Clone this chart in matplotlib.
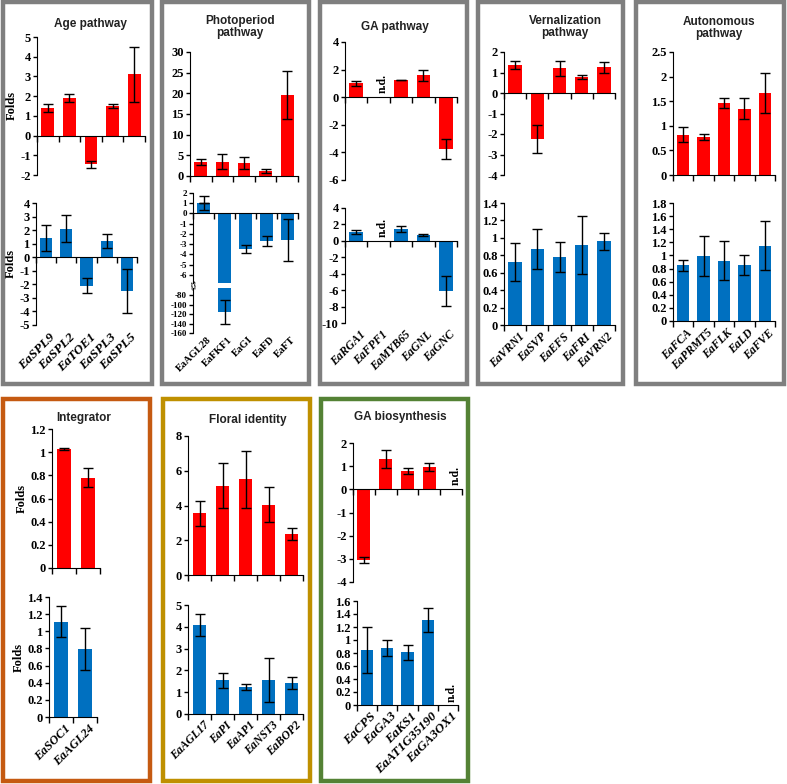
import numpy as np
import matplotlib.pyplot as plt
from matplotlib.patches import Rectangle

plt.rcParams['axes.unicode_minus'] = False

W, H = 787, 784
RED = '#FF0000'
BLUE = '#0070C0'
nan = np.nan

# ---- data (top = red, bottom = blue) ----
age_genes = ["EaSPL9", "EaSPL2", "EaTOE1", "EaSPL3", "EaSPL5"]
age_red = [1.4, 1.9, -1.45, 1.5, 3.1]
age_red_err = [0.22, 0.22, 0.17, 0.12, 1.4]
age_blue = [1.4, 2.1, -2.1, 1.2, -2.5]
age_blue_err = [0.95, 1.0, 0.55, 0.5, 1.6]

photo_genes = ["EaAGL28", "EaFKF1", "EaGI", "EaFD", "EaFT"]
photo_red = [3.4, 3.5, 3.2, 1.2, 19.6]
photo_red_err = [0.8, 1.8, 1.5, 0.4, 5.9]
photo_blue = [1.0, -115, -3.5, -2.7, -2.6]
photo_blue_err = [0.7, 25, 0.4, 0.45, 2.05]

ga_genes = ["EaRGA1", "EaFPF1", "EaMYB65", "EaGNL", "EaGNC"]
ga_red = [1.0, nan, 1.25, 1.6, -3.75]
ga_red_err = [0.2, nan, 0.02, 0.4, 0.75]
ga_blue = [1.1, nan, 1.4, 0.7, -6.1]
ga_blue_err = [0.25, nan, 0.35, 0.15, 1.85]

vern_genes = ["EaVRN1", "EaSVP", "EaEFS", "EaFRI", "EaVRN2"]
vern_red = [1.35, -2.25, 1.2, 0.8, 1.25]
vern_red_err = [0.2, 0.67, 0.35, 0.1, 0.25]
vern_blue = [0.72, 0.87, 0.78, 0.92, 0.96]
vern_blue_err = [0.22, 0.23, 0.17, 0.33, 0.1]

auto_genes = ["EaFCA", "EaPRMT5", "EaFLK", "EaLD", "EaFVE"]
auto_red = [0.82, 0.78, 1.47, 1.35, 1.67]
auto_red_err = [0.15, 0.06, 0.1, 0.21, 0.4]
auto_blue = [0.85, 0.99, 0.92, 0.85, 1.15]
auto_blue_err = [0.08, 0.3, 0.3, 0.15, 0.37]

int_genes = ["EaSOC1", "EaAGL24"]
int_red = [1.03, 0.78]
int_red_err = [0.01, 0.085]
int_blue = [1.11, 0.79]
int_blue_err = [0.18, 0.245]

flo_genes = ["EaAGL17", "EaPI", "EaAP1", "EaNST3", "EaBOP2"]
flo_red = [3.55, 5.15, 5.5, 4.05, 2.35]
flo_red_err = [0.72, 1.3, 1.65, 1.0, 0.35]
flo_blue = [4.1, 1.55, 1.22, 1.55, 1.42]
flo_blue_err = [0.5, 0.35, 0.14, 1.02, 0.27]

gab_genes = ["EaCPS", "EaGA3", "EaKS1", "EaAT1G35190", "EaGA3OX1"]
gab_red = [-3.05, 1.3, 0.8, 0.95, nan]
gab_red_err = [0.15, 0.4, 0.13, 0.18, nan]
gab_blue = [0.85, 0.88, 0.81, 1.31, nan]
gab_blue_err = [0.35, 0.12, 0.12, 0.18, nan]

fig = plt.figure(figsize=(W / 100, H / 100), dpi=100)

SERIF = 'Liberation Serif'
SANS = 'Liberation Sans'


def px_axes(x0, y0, x1, y1):
    return fig.add_axes([x0 / W, 1 - y1 / H, (x1 - x0) / W, (y1 - y0) / H])


def frame(x0, y0, x1, y1, color):
    fig.add_artist(Rectangle((x0 / W, 1 - y1 / H), (x1 - x0) / W, (y1 - y0) / H,
                             transform=fig.transFigure, fill=False,
                             edgecolor=color, linewidth=3.2))


def title(x, y, text):
    fig.text(x / W, 1 - y / H, text, ha='center', va='center',
             fontsize=8.5, fontweight='bold', family=SANS, color='#222222',
             linespacing=1.0)


def fmt(v):
    return '{:g}'.format(round(v, 2))


def bars(box, vals, errs, color, ylim, yticks, genes=None, italic=True,
         folds=False, ytick_size=9, nd=None, xaxis=True, label_size=9):
    ax = px_axes(*box)
    n = len(vals)
    x = np.arange(n)
    ax.bar(x, vals, width=0.6, color=color, zorder=2)
    ax.errorbar(x, vals, yerr=errs, fmt='none', ecolor='black',
                elinewidth=1, capsize=3.5, capthick=1, zorder=3)
    ax.set_xlim(-0.5, n - 0.5)
    ax.set_ylim(*ylim)
    ax.set_yticks(yticks)
    ax.set_yticklabels([fmt(t) for t in yticks], fontsize=ytick_size,
                       fontweight='bold', family=SERIF)
    ax.tick_params(axis='y', length=3, width=1, pad=1.5)
    for s in ['top', 'right']:
        ax.spines[s].set_visible(False)
    if xaxis:
        ax.spines['bottom'].set_position(('data', 0))
        ax.set_xticks(np.arange(n + 1) - 0.5)
        ax.set_xticklabels([])
        ax.tick_params(axis='x', length=4, width=1, direction='out')
    else:
        ax.spines['bottom'].set_visible(False)
        ax.set_xticks([])
    ax.patch.set_alpha(0)
    if genes is not None:
        for i, g in enumerate(genes):
            ax.text(i + 0.15, -0.05, g, transform=ax.get_xaxis_transform(),
                    rotation=45, ha='right', va='top', fontsize=label_size,
                    fontweight='bold', family=SERIF,
                    style='italic' if italic else 'normal',
                    rotation_mode='anchor')
    if folds:
        ax.set_ylabel('Folds', fontsize=9, fontweight='bold', family=SERIF,
                      labelpad=2)
    if nd is not None:
        for i in nd:
            ax.text(i + 0.2, 0.03 * (ylim[1] - ylim[0]) + max(ylim[0], 0),
                    'n.d.', rotation=90, ha='center', va='bottom',
                    fontsize=8.5, fontweight='bold', family=SERIF)
    return ax


GREY = '#7F7F7F'

# ---- Age pathway ----
frame(3, 2, 152, 384, GREY)
title(90, 24, 'Age pathway')
bars((37, 37, 145, 175), age_red, age_red_err, RED, (-2, 5), range(-2, 6),
     folds=True)
bars((36, 203, 137, 325), age_blue, age_blue_err, BLUE, (-5, 4),
     range(-5, 5), genes=age_genes, folds=True, label_size=9.5)

# ---- Photoperiod pathway (broken axis below) ----
frame(162, 2, 309, 384, GREY)
title(240, 27, 'Photoperiod\npathway')
bars((190, 52, 298, 176), photo_red, photo_red_err, RED, (0, 30),
     range(0, 31, 5))
ax_up = bars((193, 193, 298, 283), photo_blue, [0, 0, 0.4, 0.45, 2.05], BLUE,
             (-6.8, 2), range(-6, 3), ytick_size=6.5)
ax_up.errorbar([0], [photo_blue[0]], yerr=[photo_blue_err[0]], fmt='none',
               ecolor='black', elinewidth=1, capsize=3.5, zorder=3)
ax_lo = bars((193, 288, 298, 333), [nan, photo_blue[1], nan, nan, nan],
             [nan, photo_blue_err[1], nan, nan, nan], BLUE, (-160, -65),
             range(-160, -79, 20), genes=photo_genes, italic=False,
             ytick_size=6.5, xaxis=False, label_size=7.5)
fig.text(194 / W, 1 - 286 / H, '//', fontsize=6, fontweight='bold',
         ha='center', va='center', rotation=20)

# ---- GA pathway ----
frame(320, 2, 467, 384, GREY)
title(395, 27, 'GA pathway')
bars((345, 42, 457, 180), ga_red, ga_red_err, RED, (-6, 4), range(-6, 5, 2),
     nd=[1])
bars((345, 208, 457, 323), ga_blue, ga_blue_err, BLUE, (-10, 4),
     range(-10, 5, 2), genes=ga_genes, nd=[1], label_size=8.5)

# ---- Vernalization pathway ----
frame(478, 2, 623, 384, GREY)
title(565, 27, 'Vernalization\npathway')
bars((504, 52, 615, 175), vern_red, vern_red_err, RED, (-4, 2), range(-4, 3))
bars((504, 203, 615, 325), vern_blue, vern_blue_err, BLUE, (0, 1.4),
     np.arange(0, 1.41, 0.2), genes=vern_genes, label_size=8.5)

# ---- Autonomous pathway ----
frame(636, 2, 784, 384, GREY)
title(719, 28, 'Autonomous\npathway')
bars((673, 52, 775, 175), auto_red, auto_red_err, RED, (0, 2.5),
     np.arange(0, 2.51, 0.5))
bars((673, 203, 775, 321), auto_blue, auto_blue_err, BLUE, (0, 1.8),
     np.arange(0, 1.81, 0.2), genes=auto_genes, label_size=8.5)

# ---- Integrator ----
frame(3, 399, 150, 781, '#C55A11')
title(84, 418, 'Integrator')
bars((52, 429, 100, 568), int_red, int_red_err, RED, (0, 1.2),
     np.arange(0, 1.21, 0.2), folds=True)
bars((49, 597, 97, 717), int_blue, int_blue_err, BLUE, (0, 1.4),
     np.arange(0, 1.41, 0.2), genes=int_genes, folds=True)

# ---- Floral identity ----
frame(163, 399, 310, 781, '#BF9000')
title(248, 420, 'Floral identity')
bars((188, 436, 303, 575), flo_red, flo_red_err, RED, (0, 8), range(0, 9, 2))
bars((188, 605, 303, 714), flo_blue, flo_blue_err, BLUE, (0, 5),
     range(0, 6), genes=flo_genes, label_size=8.5)

# ---- GA biosynthesis ----
frame(321, 399, 468, 781, '#548235')
title(400, 417, 'GA biosynthesis')
bars((353, 443, 462, 582), gab_red, gab_red_err, RED, (-4, 2), range(-4, 3),
     nd=[4])
bars((357, 601, 458, 705), gab_blue, gab_blue_err, BLUE, (0, 1.6),
     np.arange(0, 1.61, 0.2), genes=gab_genes, nd=[4], label_size=9.5)

fig.savefig('out.png', dpi=100)
